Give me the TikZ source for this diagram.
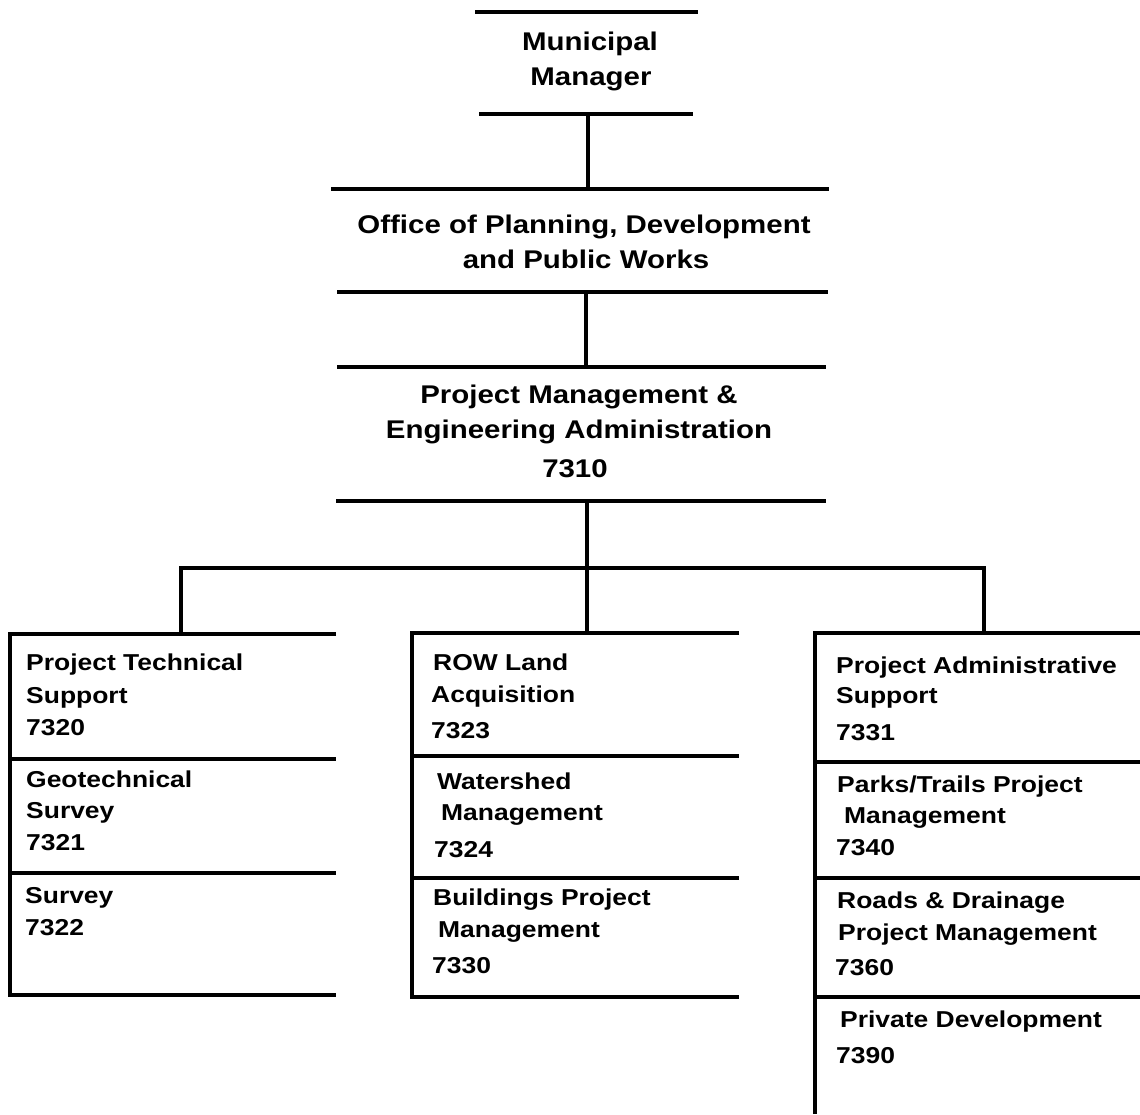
\documentclass[tikz,border=0pt]{standalone}
\usepackage{fontspec}
\setmainfont[FakeStretch=1.15]{Liberation Sans}
\begin{document}
\begin{tikzpicture}[x=1pt,y=-1pt,
  rule/.style={line width=3.5pt},
  toptext/.style={font=\bfseries\fontsize{25.6}{30}\selectfont, anchor=base, inner sep=0pt},
  boxtext/.style={font=\bfseries\fontsize{23}{28}\selectfont, anchor=base west, inner sep=0pt}]
\useasboundingbox (0,0) rectangle (1140,1114);

% ---- top boxes (rules only)
\draw[rule] (475,12) -- (698,12);
\draw[rule] (479,114) -- (693,114);
\node[toptext] (mm1) at (590,50) {Municipal};
\node[toptext] (mm2) at (591,85) {Manager};

\draw[rule] (331,189) -- (829,189);
\draw[rule] (337,292) -- (828,292);
\node[toptext] (op1) at (584,233) {Office of Planning, Development};
\node[toptext] (op2) at (586,268) {and Public Works};

\draw[rule] (337,367) -- (826,367);
\draw[rule] (336,501) -- (826,501);
\node[toptext] (pm1) at (579,403) {Project Management \&};
\node[toptext] (pm2) at (579,438) {Engineering Administration};
\node[toptext] (pm3) at (575,477) {7310};

% ---- connector coordinates
\coordinate (mmB) at (588,114);
\coordinate (opT) at (588,189);
\coordinate (opB) at (586,292);
\coordinate (pmT) at (586,367);
\coordinate (pmB) at (587,501);
\coordinate (busL) at (181,568);
\coordinate (busR) at (984,568);
\coordinate (colL) at (181,634);
\coordinate (colM) at (587,633);
\coordinate (colR) at (984,633);

\draw[rule] (mmB) -- (opT);
\draw[rule] (opB) -- (pmT);
\draw[rule] (pmB) -- (colM);
\draw[rule] ([xshift=-1.75pt]busL) -- ([xshift=1.75pt]busR);
\draw[rule] (busL) -- (colL);
\draw[rule] (busR) -- (colR);

% ---- left column
\draw[rule] (336,634) -- (10,634) -- (10,995) -- (336,995);
\draw[rule] (10,759) -- (336,759);
\draw[rule] (10,873) -- (336,873);
\node[boxtext] (l1) at (26,670) {Project Technical};
\node[boxtext] (l2) at (26,703) {Support};
\node[boxtext] (l3) at (26,735) {7320};
\node[boxtext] (l4) at (26,787) {Geotechnical};
\node[boxtext] (l5) at (26,818) {Survey};
\node[boxtext] (l6) at (26,850) {7321};
\node[boxtext] (l7) at (25,903) {Survey};
\node[boxtext] (l8) at (25,935) {7322};

% ---- middle column
\draw[rule] (739,633) -- (412,633) -- (412,997) -- (739,997);
\draw[rule] (412,756) -- (739,756);
\draw[rule] (412,878) -- (739,878);
\node[boxtext] (m1) at (433,670) {ROW Land};
\node[boxtext] (m2) at (431,702) {Acquisition};
\node[boxtext] (m3) at (431,738) {7323};
\node[boxtext] (m4) at (437,789) {Watershed};
\node[boxtext] (m5) at (441,820) {Management};
\node[boxtext] (m6) at (434,857) {7324};
\node[boxtext] (m7) at (433,905) {Buildings Project};
\node[boxtext] (m8) at (438,937) {Management};
\node[boxtext] (m9) at (432,973) {7330};

% ---- right column
\draw[rule] (1140,633) -- (815,633) -- (815,1114);
\draw[rule] (815,762) -- (1140,762);
\draw[rule] (815,878) -- (1140,878);
\draw[rule] (815,997) -- (1140,997);
\node[boxtext] (r1) at (836,673) {Project Administrative};
\node[boxtext] (r2) at (836,703) {Support};
\node[boxtext] (r3) at (836,740) {7331};
\node[boxtext] (r4) at (837,792) {Parks/Trails Project};
\node[boxtext] (r5) at (844,823) {Management};
\node[boxtext] (r6) at (836,855) {7340};
\node[boxtext] (r7) at (837,908) {Roads \& Drainage};
\node[boxtext] (r8) at (838,940) {Project Management};
\node[boxtext] (r9) at (835,975) {7360};
\node[boxtext] (r10) at (840,1027) {Private Development};
\node[boxtext] (r11) at (836,1063) {7390};
\end{tikzpicture}
\end{document}
